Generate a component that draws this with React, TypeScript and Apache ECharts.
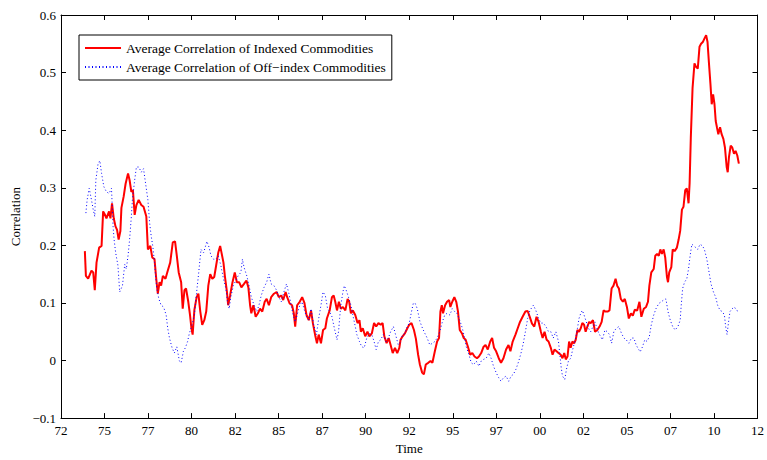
import React, { useEffect, useRef } from "react";
import * as echarts from "echarts";

const xTickLabels = ["72", "75", "77", "80", "82", "85", "87", "90", "92", "95", "97", "00", "02", "05", "07", "10", "12"];
const yTickLabels = ["−0.1", "0", "0.1", "0.2", "0.3", "0.4", "0.5", "0.6"];
const seriesNames = ["Average Correlation of Indexed Commodities", "Average Correlation of Off−index Commodities"];

// [decimal year, correlation]
const indexedCorr: [number, number][] = [
  [1973.37,0.190],[1973.43,0.147],[1973.56,0.142],[1973.75,0.156],[1973.85,0.153],[1973.94,0.122],[1974.04,0.170],[1974.19,0.196],[1974.33,0.199],[1974.42,0.259],[1974.51,0.254],[1974.61,0.247],[1974.76,0.259],[1974.84,0.247],[1974.93,0.273],[1975.03,0.247],[1975.13,0.233],[1975.22,0.227],[1975.31,0.210],[1975.41,0.225],[1975.47,0.265],[1975.60,0.285],[1975.71,0.307],[1975.85,0.325],[1975.94,0.313],[1976.04,0.293],[1976.13,0.296],[1976.23,0.253],[1976.33,0.270],[1976.46,0.279],[1976.61,0.270],[1976.74,0.267],[1976.90,0.250],[1976.99,0.193],[1977.13,0.199],[1977.24,0.179],[1977.37,0.176],[1977.47,0.142],[1977.56,0.116],[1977.66,0.136],[1977.75,0.130],[1977.85,0.147],[1978.00,0.142],[1978.13,0.156],[1978.27,0.170],[1978.42,0.205],[1978.55,0.207],[1978.65,0.182],[1978.76,0.153],[1978.90,0.136],[1978.99,0.090],[1979.09,0.122],[1979.18,0.125],[1979.31,0.102],[1979.41,0.079],[1979.49,0.056],[1979.56,0.045],[1979.66,0.088],[1979.79,0.110],[1979.89,0.116],[1980.00,0.085],[1980.11,0.062],[1980.23,0.070],[1980.34,0.085],[1980.46,0.130],[1980.57,0.150],[1980.69,0.142],[1980.80,0.145],[1980.91,0.165],[1981.03,0.187],[1981.14,0.199],[1981.22,0.187],[1981.33,0.170],[1981.41,0.147],[1981.53,0.119],[1981.60,0.096],[1981.71,0.113],[1981.85,0.136],[1981.98,0.153],[1982.10,0.136],[1982.23,0.136],[1982.36,0.127],[1982.51,0.133],[1982.65,0.139],[1982.76,0.127],[1982.86,0.096],[1982.93,0.082],[1983.05,0.096],[1983.18,0.076],[1983.31,0.082],[1983.43,0.090],[1983.56,0.085],[1983.70,0.102],[1983.81,0.107],[1983.94,0.096],[1984.07,0.110],[1984.23,0.116],[1984.38,0.119],[1984.51,0.110],[1984.65,0.113],[1984.76,0.105],[1984.90,0.119],[1984.99,0.110],[1985.13,0.099],[1985.27,0.096],[1985.37,0.082],[1985.45,0.059],[1985.56,0.096],[1985.71,0.102],[1985.85,0.110],[1985.98,0.100],[1986.10,0.079],[1986.23,0.070],[1986.36,0.087],[1986.47,0.064],[1986.61,0.042],[1986.70,0.030],[1986.80,0.045],[1986.93,0.030],[1987.05,0.053],[1987.18,0.056],[1987.27,0.073],[1987.43,0.087],[1987.56,0.110],[1987.66,0.113],[1987.75,0.102],[1987.85,0.087],[1987.96,0.102],[1988.07,0.090],[1988.19,0.093],[1988.33,0.087],[1988.46,0.107],[1988.55,0.102],[1988.65,0.082],[1988.76,0.087],[1988.90,0.079],[1989.03,0.065],[1989.14,0.070],[1989.22,0.050],[1989.33,0.056],[1989.47,0.042],[1989.60,0.050],[1989.71,0.042],[1989.85,0.047],[1989.98,0.065],[1990.10,0.059],[1990.23,0.065],[1990.36,0.062],[1990.47,0.065],[1990.57,0.042],[1990.70,0.030],[1990.82,0.039],[1990.93,0.027],[1991.05,0.013],[1991.18,0.022],[1991.31,0.013],[1991.43,0.022],[1991.50,0.036],[1991.62,0.042],[1991.75,0.047],[1991.89,0.056],[1992.00,0.062],[1992.13,0.065],[1992.27,0.053],[1992.38,0.038],[1992.51,0.010],[1992.61,-0.007],[1992.74,-0.021],[1992.84,-0.024],[1992.95,-0.007],[1993.09,-0.004],[1993.22,-0.001],[1993.33,-0.004],[1993.47,0.016],[1993.60,0.033],[1993.71,0.039],[1993.79,0.085],[1993.87,0.096],[1993.94,0.082],[1994.06,0.096],[1994.17,0.102],[1994.29,0.105],[1994.36,0.093],[1994.47,0.102],[1994.59,0.110],[1994.70,0.102],[1994.80,0.085],[1994.90,0.053],[1995.03,0.047],[1995.13,0.039],[1995.24,0.036],[1995.37,0.024],[1995.50,0.010],[1995.62,0.013],[1995.75,0.007],[1995.89,0.004],[1996.00,0.007],[1996.13,0.013],[1996.27,0.024],[1996.38,0.027],[1996.51,0.019],[1996.65,0.033],[1996.76,0.039],[1996.87,0.022],[1996.99,0.016],[1997.14,0.004],[1997.27,-0.004],[1997.41,0.004],[1997.56,0.019],[1997.70,0.027],[1997.81,0.016],[1997.94,0.033],[1998.10,0.045],[1998.23,0.056],[1998.36,0.067],[1998.51,0.076],[1998.67,0.085],[1998.80,0.086],[1998.93,0.075],[1999.05,0.064],[1999.18,0.059],[1999.31,0.076],[1999.43,0.067],[1999.56,0.050],[1999.66,0.039],[1999.77,0.050],[1999.89,0.036],[2000.00,0.033],[2000.13,0.022],[2000.23,0.010],[2000.34,0.019],[2000.46,0.016],[2000.57,0.013],[2000.70,0.010],[2000.80,0.004],[2000.90,0.013],[2000.99,0.002],[2001.09,0.007],[2001.18,0.033],[2001.27,0.022],[2001.37,0.033],[2001.47,0.030],[2001.56,0.036],[2001.66,0.053],[2001.75,0.050],[2001.85,0.056],[2001.94,0.065],[2002.04,0.062],[2002.13,0.050],[2002.23,0.059],[2002.33,0.067],[2002.42,0.065],[2002.55,0.070],[2002.67,0.050],[2002.80,0.053],[2002.93,0.059],[2003.05,0.067],[2003.16,0.087],[2003.27,0.085],[2003.39,0.085],[2003.50,0.087],[2003.62,0.125],[2003.73,0.130],[2003.85,0.142],[2003.94,0.130],[2004.04,0.125],[2004.15,0.107],[2004.27,0.102],[2004.38,0.107],[2004.50,0.093],[2004.61,0.073],[2004.73,0.082],[2004.84,0.078],[2004.95,0.088],[2005.09,0.087],[2005.22,0.102],[2005.33,0.076],[2005.47,0.090],[2005.60,0.093],[2005.71,0.102],[2005.79,0.130],[2005.90,0.153],[2006.04,0.159],[2006.13,0.182],[2006.23,0.185],[2006.33,0.182],[2006.42,0.193],[2006.51,0.185],[2006.61,0.193],[2006.70,0.179],[2006.80,0.145],[2006.86,0.136],[2006.93,0.153],[2007.05,0.162],[2007.13,0.193],[2007.24,0.190],[2007.37,0.196],[2007.47,0.210],[2007.56,0.225],[2007.66,0.262],[2007.75,0.267],[2007.85,0.296],[2007.94,0.299],[2008.04,0.273],[2008.10,0.307],[2008.17,0.387],[2008.27,0.473],[2008.38,0.516],[2008.47,0.510],[2008.57,0.507],[2008.67,0.545],[2008.76,0.550],[2008.86,0.553],[2008.95,0.559],[2009.05,0.565],[2009.13,0.553],[2009.22,0.513],[2009.30,0.479],[2009.37,0.445],[2009.45,0.462],[2009.53,0.445],[2009.60,0.416],[2009.67,0.405],[2009.75,0.393],[2009.85,0.405],[2009.94,0.393],[2010.04,0.385],[2010.13,0.370],[2010.23,0.336],[2010.29,0.327],[2010.36,0.353],[2010.46,0.373],[2010.55,0.370],[2010.65,0.359],[2010.74,0.364],[2010.84,0.356],[2010.93,0.342]
];

const offIndexCorr: [number, number][] = [
  [1973.43,0.256],[1973.50,0.279],[1973.62,0.299],[1973.75,0.279],[1973.85,0.262],[1973.94,0.250],[1974.00,0.313],[1974.13,0.342],[1974.23,0.347],[1974.33,0.325],[1974.46,0.302],[1974.61,0.293],[1974.76,0.290],[1974.90,0.299],[1974.99,0.233],[1975.05,0.210],[1975.14,0.187],[1975.27,0.165],[1975.37,0.119],[1975.53,0.130],[1975.66,0.167],[1975.75,0.159],[1975.85,0.182],[1975.94,0.210],[1976.04,0.250],[1976.10,0.279],[1976.23,0.313],[1976.33,0.336],[1976.47,0.336],[1976.61,0.327],[1976.74,0.333],[1976.86,0.307],[1976.99,0.279],[1977.09,0.239],[1977.18,0.216],[1977.27,0.199],[1977.37,0.170],[1977.43,0.147],[1977.50,0.125],[1977.62,0.107],[1977.75,0.096],[1977.89,0.093],[1978.04,0.079],[1978.13,0.056],[1978.23,0.039],[1978.38,0.022],[1978.51,0.013],[1978.65,0.024],[1978.80,-0.001],[1978.90,-0.004],[1979.03,0.016],[1979.14,0.022],[1979.27,0.033],[1979.37,0.047],[1979.53,0.062],[1979.66,0.079],[1979.79,0.119],[1979.90,0.150],[1980.04,0.193],[1980.19,0.187],[1980.38,0.207],[1980.51,0.196],[1980.61,0.182],[1980.76,0.176],[1980.90,0.176],[1981.03,0.182],[1981.18,0.165],[1981.33,0.142],[1981.47,0.125],[1981.56,0.102],[1981.66,0.090],[1981.75,0.110],[1981.90,0.130],[1982.04,0.139],[1982.17,0.147],[1982.33,0.153],[1982.42,0.176],[1982.51,0.162],[1982.67,0.147],[1982.80,0.130],[1982.93,0.110],[1983.09,0.096],[1983.24,0.085],[1983.37,0.096],[1983.50,0.113],[1983.66,0.127],[1983.81,0.136],[1983.94,0.150],[1984.07,0.133],[1984.23,0.130],[1984.38,0.122],[1984.51,0.110],[1984.65,0.102],[1984.80,0.119],[1984.95,0.133],[1985.09,0.116],[1985.22,0.096],[1985.33,0.079],[1985.45,0.067],[1985.56,0.079],[1985.71,0.096],[1985.85,0.102],[1985.98,0.087],[1986.10,0.076],[1986.23,0.070],[1986.36,0.090],[1986.51,0.062],[1986.67,0.045],[1986.80,0.073],[1986.93,0.096],[1987.05,0.119],[1987.18,0.113],[1987.31,0.090],[1987.43,0.085],[1987.56,0.076],[1987.70,0.056],[1987.85,0.036],[1987.94,0.050],[1988.00,0.073],[1988.07,0.096],[1988.19,0.119],[1988.27,0.130],[1988.38,0.122],[1988.51,0.110],[1988.65,0.096],[1988.76,0.079],[1988.90,0.059],[1988.99,0.045],[1989.14,0.033],[1989.27,0.024],[1989.41,0.022],[1989.56,0.039],[1989.71,0.047],[1989.85,0.045],[1989.98,0.033],[1990.10,0.019],[1990.23,0.033],[1990.36,0.036],[1990.51,0.045],[1990.67,0.033],[1990.80,0.039],[1990.93,0.050],[1991.09,0.059],[1991.24,0.042],[1991.37,0.027],[1991.50,0.033],[1991.62,0.045],[1991.75,0.047],[1991.89,0.059],[1992.00,0.065],[1992.13,0.085],[1992.23,0.099],[1992.33,0.100],[1992.46,0.090],[1992.61,0.068],[1992.76,0.056],[1992.90,0.047],[1993.03,0.039],[1993.18,0.027],[1993.33,0.030],[1993.47,0.033],[1993.60,0.039],[1993.75,0.050],[1993.90,0.067],[1994.04,0.079],[1994.17,0.082],[1994.33,0.079],[1994.47,0.090],[1994.61,0.085],[1994.74,0.082],[1994.90,0.070],[1995.05,0.056],[1995.18,0.039],[1995.27,0.024],[1995.43,0.010],[1995.56,-0.004],[1995.70,-0.007],[1995.85,-0.001],[1996.00,-0.010],[1996.13,-0.001],[1996.27,0.002],[1996.42,0.004],[1996.57,0.013],[1996.70,0.004],[1996.84,-0.010],[1996.99,-0.021],[1997.14,-0.030],[1997.27,-0.036],[1997.41,-0.030],[1997.56,-0.027],[1997.71,-0.036],[1997.85,-0.027],[1997.98,-0.024],[1998.13,-0.015],[1998.29,-0.001],[1998.42,0.013],[1998.55,0.030],[1998.67,0.050],[1998.80,0.073],[1998.93,0.087],[1999.13,0.096],[1999.27,0.087],[1999.43,0.073],[1999.56,0.065],[1999.70,0.065],[1999.85,0.059],[2000.00,0.050],[2000.13,0.050],[2000.27,0.039],[2000.42,0.050],[2000.57,0.033],[2000.65,0.010],[2000.73,-0.013],[2000.80,-0.027],[2000.93,-0.033],[2001.03,-0.015],[2001.14,-0.001],[2001.27,0.004],[2001.41,0.022],[2001.56,0.039],[2001.66,0.056],[2001.75,0.073],[2001.85,0.082],[2001.94,0.087],[2002.04,0.079],[2002.17,0.067],[2002.29,0.056],[2002.42,0.050],[2002.55,0.059],[2002.67,0.067],[2002.80,0.053],[2002.93,0.045],[2003.09,0.036],[2003.24,0.053],[2003.37,0.050],[2003.50,0.045],[2003.62,0.030],[2003.75,0.050],[2003.89,0.056],[2004.04,0.059],[2004.19,0.047],[2004.33,0.039],[2004.46,0.036],[2004.61,0.030],[2004.76,0.039],[2004.90,0.039],[2005.03,0.027],[2005.18,0.019],[2005.26,0.015],[2005.37,0.022],[2005.53,0.036],[2005.66,0.033],[2005.79,0.042],[2005.90,0.062],[2006.04,0.079],[2006.17,0.090],[2006.33,0.099],[2006.47,0.102],[2006.61,0.105],[2006.74,0.107],[2006.86,0.085],[2006.99,0.070],[2007.13,0.059],[2007.27,0.053],[2007.43,0.059],[2007.56,0.070],[2007.62,0.096],[2007.70,0.125],[2007.81,0.136],[2007.94,0.142],[2008.04,0.159],[2008.13,0.182],[2008.23,0.202],[2008.34,0.199],[2008.46,0.196],[2008.57,0.193],[2008.70,0.202],[2008.84,0.199],[2008.95,0.193],[2009.09,0.176],[2009.22,0.153],[2009.33,0.133],[2009.47,0.119],[2009.60,0.110],[2009.71,0.096],[2009.85,0.087],[2009.98,0.085],[2010.10,0.079],[2010.17,0.059],[2010.25,0.045],[2010.33,0.065],[2010.42,0.085],[2010.55,0.090],[2010.67,0.093],[2010.80,0.087],[2010.93,0.085]
];

const START_YEAR = 1972;
const FONT = "Liberation Serif, Times New Roman, serif";

export default function App() {
  const ref = useRef<HTMLDivElement>(null);

  useEffect(() => {
    document.body.style.margin = "0";
    if (!ref.current) return;
    const chart = echarts.init(ref.current, undefined, { renderer: "svg" });
    const toPts = (arr: [number, number][]) => arr.map(([t, v]) => [t - START_YEAR, v]);
    const txt = { color: "#000", fontFamily: FONT, fontSize: 13 };
    const baseX = {
      type: "value" as const,
      min: 0,
      max: 40,
      interval: 2.5,
      splitLine: { show: false },
      axisLine: { show: true, onZero: false, lineStyle: { color: "#000", width: 1 } },
      axisTick: { show: true, inside: true, length: 5, lineStyle: { color: "#000", width: 1 } },
    };
    const baseY = {
      type: "value" as const,
      min: -0.1,
      max: 0.6,
      interval: 0.1,
      splitLine: { show: false },
      axisLine: { show: true, onZero: false, lineStyle: { color: "#000", width: 1 } },
      axisTick: { show: true, inside: true, length: 5, lineStyle: { color: "#000", width: 1 } },
    };
    chart.setOption({
      animation: false,
      backgroundColor: "#fff",
      grid: { left: 61, right: 6, top: 15, bottom: 37 },
      legend: {
        data: seriesNames,
        orient: "vertical",
        left: 79,
        top: 35,
        itemWidth: 36,
        itemHeight: 12,
        itemGap: 5,
        padding: [6, 6, 6, 5],
        borderColor: "#000",
        borderWidth: 1,
        borderRadius: 0,
        backgroundColor: "#fff",
        itemStyle: { opacity: 0 },
        textStyle: { ...txt, fontSize: 13.5 },
      },
      xAxis: [
        {
          ...baseX,
          position: "bottom",
          axisLabel: {
            ...txt,
            margin: 6,
            formatter: (v: number) => xTickLabels[Math.round(v / 2.5)] ?? "",
          },
          name: "Time",
          nameLocation: "middle",
          nameGap: 22,
          nameTextStyle: { ...txt },
        },
        { ...baseX, position: "top", axisLabel: { show: false } },
      ],
      yAxis: [
        {
          ...baseY,
          position: "left",
          axisLabel: {
            ...txt,
            margin: 5,
            formatter: (v: number) => yTickLabels[Math.round((v + 0.1) / 0.1)] ?? "",
          },
          name: "Correlation",
          nameLocation: "middle",
          nameGap: 32,
          nameTextStyle: { ...txt },
        },
        { ...baseY, position: "right", axisLabel: { show: false } },
      ],
      series: [
        {
          name: seriesNames[0],
          type: "line",
          xAxisIndex: 0,
          yAxisIndex: 0,
          data: toPts(indexedCorr),
          symbol: "none",
          showSymbol: false,
          color: "#ff0000",
          lineStyle: { color: "#ff0000", width: 2 },
          z: 2,
        },
        {
          name: seriesNames[1],
          type: "line",
          xAxisIndex: 0,
          yAxisIndex: 0,
          data: toPts(offIndexCorr),
          symbol: "none",
          showSymbol: false,
          color: "#0000ff",
          lineStyle: { color: "#0000ff", width: 1, type: [1, 2.5] },
          z: 3,
        },
      ],
    });
    return () => chart.dispose();
  }, []);

  return <div ref={ref} style={{ width: 767, height: 460 }} />;
}
